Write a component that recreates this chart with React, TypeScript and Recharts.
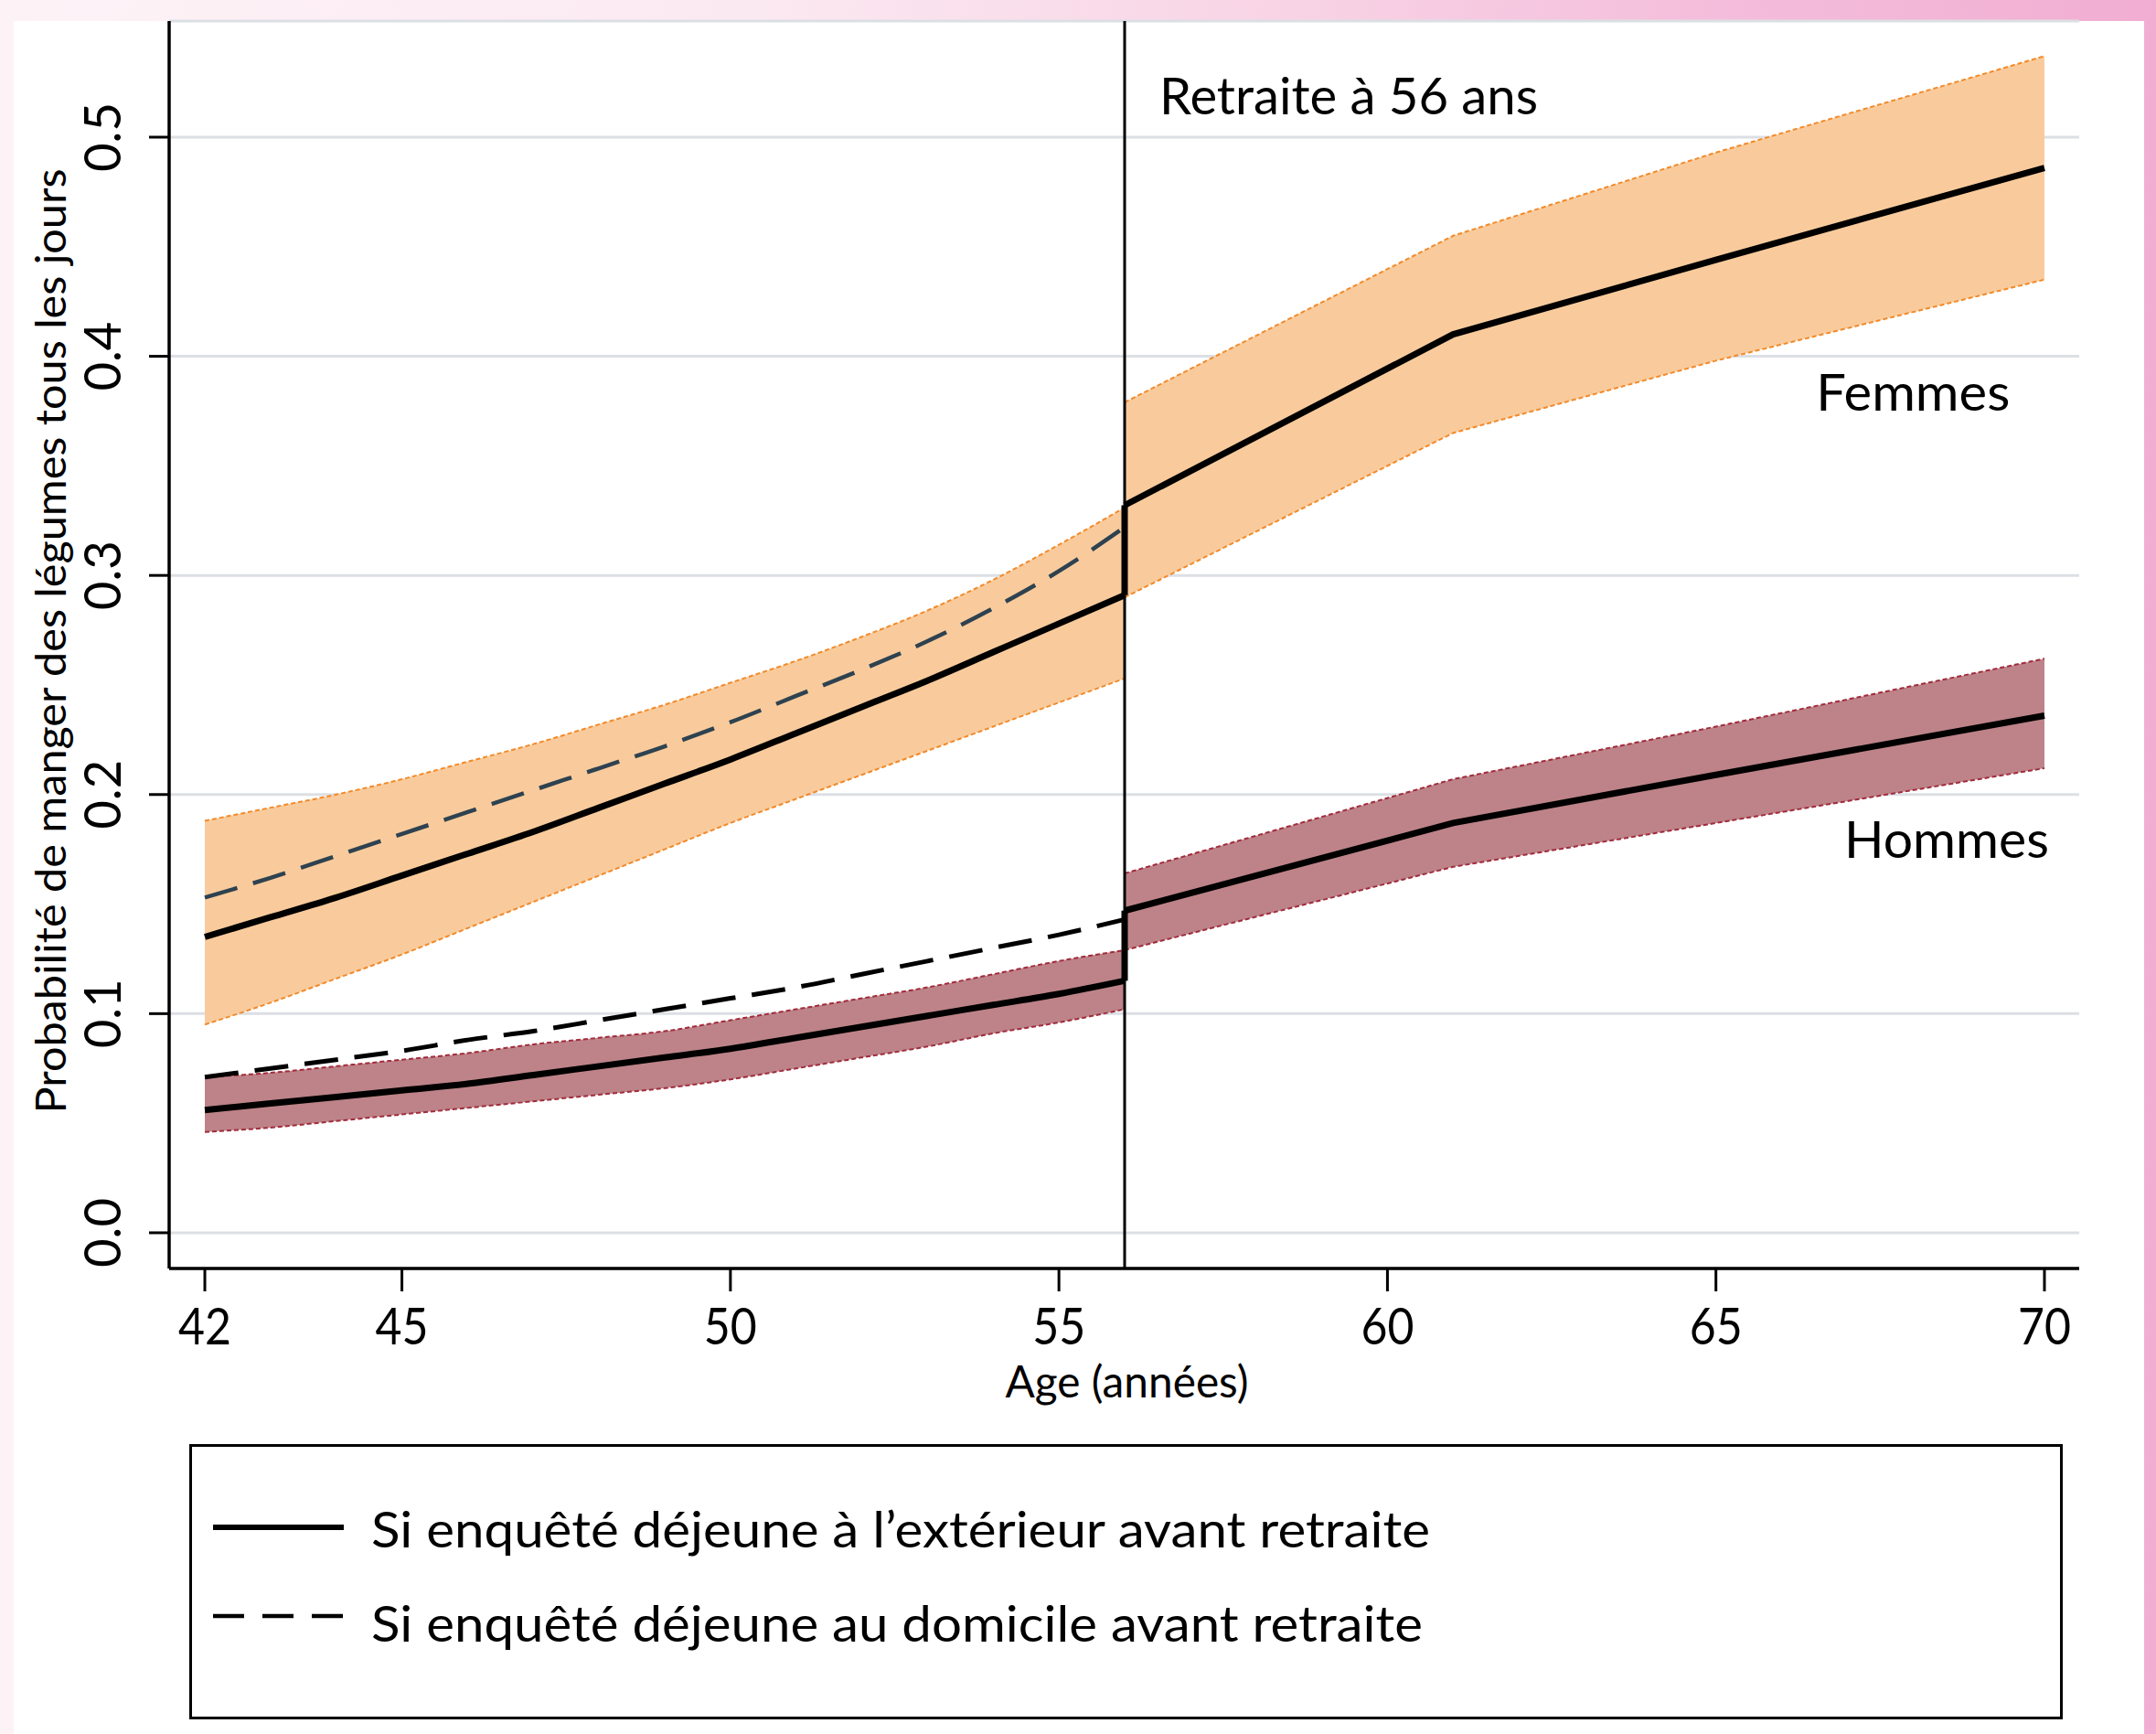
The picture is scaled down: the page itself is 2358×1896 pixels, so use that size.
import React from 'react';
import {
  ComposedChart,
  Area,
  Line,
  XAxis,
  YAxis,
  CartesianGrid,
  ReferenceLine,
  ReferenceDot,
  Legend,
  Label,
} from 'recharts';

// ages (years) before and after retirement at 56
const agesBefore = [42, 43, 44, 45, 46, 47, 48, 49, 50, 51, 52, 53, 54, 55, 56];
const agesAfter = [56, 61, 65, 70];
const retirementAge = 56;

// Femmes
const femmesSolidBefore = [0.135, 0.144, 0.153, 0.163, 0.173, 0.183, 0.194, 0.205, 0.216, 0.228, 0.240, 0.252, 0.265, 0.278, 0.291];
const femmesDashedBefore = [0.153, 0.162, 0.172, 0.182, 0.192, 0.202, 0.212, 0.222, 0.233, 0.245, 0.257, 0.270, 0.285, 0.302, 0.322];
const femmesHighBefore = [0.188, 0.194, 0.200, 0.207, 0.215, 0.223, 0.232, 0.241, 0.251, 0.261, 0.272, 0.284, 0.298, 0.314, 0.331];
const femmesLowBefore = [0.095, 0.105, 0.116, 0.127, 0.139, 0.151, 0.163, 0.175, 0.187, 0.198, 0.209, 0.220, 0.231, 0.242, 0.253];
const femmesSolidAfter = [0.332, 0.410, 0.444, 0.486];
const femmesHighAfter = [0.379, 0.455, 0.493, 0.537];
const femmesLowAfter = [0.290, 0.365, 0.398, 0.435];

// Hommes
const hommesSolidBefore = [0.056, 0.059, 0.062, 0.065, 0.068, 0.072, 0.076, 0.080, 0.084, 0.089, 0.094, 0.099, 0.104, 0.109, 0.115];
const hommesDashedBefore = [0.071, 0.075, 0.079, 0.083, 0.088, 0.092, 0.097, 0.102, 0.107, 0.112, 0.118, 0.124, 0.130, 0.136, 0.143];
const hommesHighBefore = [0.071, 0.073, 0.076, 0.079, 0.082, 0.086, 0.089, 0.092, 0.097, 0.102, 0.107, 0.112, 0.118, 0.124, 0.129];
const hommesLowBefore = [0.046, 0.048, 0.051, 0.054, 0.057, 0.060, 0.063, 0.066, 0.070, 0.075, 0.080, 0.085, 0.091, 0.096, 0.102];
const hommesSolidAfter = [0.147, 0.187, 0.209, 0.236];
const hommesHighAfter = [0.164, 0.207, 0.231, 0.262];
const hommesLowAfter = [0.129, 0.167, 0.187, 0.212];

const xTicks = [42, 45, 50, 55, 60, 65, 70];
const yTicks = [0, 0.1, 0.2, 0.3, 0.4, 0.5];

const legendLabels = [
  'Si enquêté déjeune à l’extérieur avant retraite',
  'Si enquêté déjeune au domicile avant retraite',
];

const FONT = 'Lato, "Open Sans", sans-serif';

const toLine = (ages: number[], values: number[]) => ages.map((age, i) => ({ age, v: values[i] }));
const toBand = (ages: number[], low: number[], high: number[]) =>
  ages.map((age, i) => ({ age, band: [low[i], high[i]] }));

// segments: before retirement (smooth), jump at 56, after retirement
const femmesBefore = toLine(agesBefore, femmesSolidBefore);
const femmesAfter = toLine(agesAfter, femmesSolidAfter);
const femmesJump = [femmesBefore[femmesBefore.length - 1], femmesAfter[0]];
const hommesBefore = toLine(agesBefore, hommesSolidBefore);
const hommesAfter = toLine(agesAfter, hommesSolidAfter);
const hommesJump = [hommesBefore[hommesBefore.length - 1], hommesAfter[0]];
const femmesDashed = toLine(agesBefore, femmesDashedBefore);
const hommesDashed = toLine(agesBefore, hommesDashedBefore);
const femmesBandBefore = toBand(agesBefore, femmesLowBefore, femmesHighBefore);
const femmesBandAfter = toBand(agesAfter, femmesLowAfter, femmesHighAfter);
const hommesBandBefore = toBand(agesBefore, hommesLowBefore, hommesHighBefore);
const hommesBandAfter = toBand(agesAfter, hommesLowAfter, hommesHighAfter);

const XTick = ({ x, y, payload }: any) => (
  <text
    x={x}
    y={y + 42}
    textAnchor='middle'
    fontSize={56}
    fontFamily={FONT}
    fill='#000'
    textLength={String(payload.value).length * 29}
    lengthAdjust='spacingAndGlyphs'
  >
    {payload.value}
  </text>
);

const YTick = ({ x, y, payload }: any) => (
  <text
    x={x}
    y={y}
    transform={`rotate(-90 ${x} ${y})`}
    textAnchor='middle'
    fontSize={56}
    fontFamily={FONT}
    fill='#000'
    textLength={76}
    lengthAdjust='spacingAndGlyphs'
  >
    {Number(payload.value).toFixed(1)}
  </text>
);

const groupLabel = (text: string, width: number) => (props: any) => (
  <text
    x={props.cx}
    y={props.cy}
    textAnchor='middle'
    fontSize={57}
    fontFamily={FONT}
    fill='#000'
    textLength={width}
    lengthAdjust='spacingAndGlyphs'
  >
    {text}
  </text>
);

const renderLegend = () => (
  <svg width={2049} height={301} style={{ display: 'block' }}>
    <rect x={1.5} y={1.5} width={2046} height={298} fill='#fff' stroke='#000' strokeWidth={3} />
    <line x1={26} x2={169} y1={91} y2={91} stroke='#000' strokeWidth={6} />
    <line x1={26} x2={169} y1={188} y2={188} stroke='#000' strokeWidth={4.5} strokeDasharray='34 20' />
    <text x={199} y={113} fontSize={55} fontFamily={FONT} fill='#000' textLength={1158} lengthAdjust='spacingAndGlyphs'>
      {legendLabels[0]}
    </text>
    <text x={199} y={216} fontSize={55} fontFamily={FONT} fill='#000' textLength={1150} lengthAdjust='spacingAndGlyphs'>
      {legendLabels[1]}
    </text>
  </svg>
);

const bandStyle = (fill: string, stroke: string) => ({
  dataKey: 'band',
  fill,
  fillOpacity: 1,
  stroke,
  strokeWidth: 2,
  strokeDasharray: '5 3',
  dot: false,
  activeDot: false,
  isAnimationActive: false,
});

const solidStyle = {
  dataKey: 'v',
  stroke: '#000',
  strokeWidth: 7,
  dot: false,
  activeDot: false,
  isAnimationActive: false,
};

export default function App() {
  return (
    <div
      style={{
        position: 'absolute',
        left: 0,
        top: 0,
        width: 2358,
        height: 1896,
        overflow: 'hidden',
        background: 'linear-gradient(90deg, #fdf3f7 0%, #fbe9f1 35%, #f8d3e5 60%, #f4bddb 80%, #f1aed2 100%)',
      }}
    >
      <div style={{ position: 'absolute', left: 15, top: 23, width: 2330, height: 1873, background: '#fff' }} />
      <div style={{ position: 'absolute', left: 0, top: 0 }}>
        <ComposedChart
          width={2358}
          height={1896}
          margin={{ top: 23, right: 84, bottom: 0, left: 0 }}
        >
          <CartesianGrid vertical={false} stroke='#dcdfe4' strokeWidth={3} />
          <XAxis
            dataKey='age'
            type='number'
            domain={[41.457, 70.529]}
            ticks={xTicks}
            allowDataOverflow
            height={509}
            tickSize={25}
            tickMargin={16}
            axisLine={{ stroke: '#000', strokeWidth: 3.5 }}
            tickLine={{ stroke: '#000', strokeWidth: 3 }}
            tick={<XTick />}
          >
            <Label
              content={({ viewBox }: any) => (
                <text
                  x={viewBox.x + viewBox.width / 2 + 3}
                  y={viewBox.y + 141}
                  textAnchor='middle'
                  fontSize={48}
                  fontFamily={FONT}
                  fill='#000'
                  textLength={266}
                  lengthAdjust='spacingAndGlyphs'
                >
                  Age (années)
                </text>
              )}
            />
          </XAxis>
          <YAxis
            type='number'
            domain={[-0.0163, 0.553]}
            ticks={yTicks}
            allowDataOverflow
            width={185}
            tickSize={22}
            tickMargin={31}
            axisLine={{ stroke: '#000', strokeWidth: 3.5 }}
            tickLine={{ stroke: '#000', strokeWidth: 3 }}
            tick={<YTick />}
          >
            <Label
              content={({ viewBox }: any) => {
                const x = viewBox.x + 72;
                const y = viewBox.y + viewBox.height / 2 - 4;
                return (
                  <text
                    x={x}
                    y={y}
                    transform={`rotate(-90 ${x} ${y})`}
                    textAnchor='middle'
                    fontSize={46}
                    fontFamily={FONT}
                    fill='#000'
                    textLength={1033}
                    lengthAdjust='spacingAndGlyphs'
                  >
                    Probabilité de manger des légumes tous les jours
                  </text>
                );
              }}
            />
          </YAxis>

          <ReferenceLine
            x={retirementAge}
            stroke='#000'
            strokeWidth={3}
            label={({ viewBox }: any) => (
              <text
                x={viewBox.x + 38}
                y={viewBox.y + 102}
                fontSize={56}
                fontFamily={FONT}
                fill='#000'
                textLength={414}
                lengthAdjust='spacingAndGlyphs'
              >
                Retraite à 56 ans
              </text>
            )}
          />

          <Area data={femmesBandBefore} type='monotone' {...bandStyle('#f9cb9c', '#f28a2a')} />
          <Area data={femmesBandAfter} type='linear' {...bandStyle('#f9cb9c', '#f28a2a')} />
          <Area data={hommesBandBefore} type='monotone' {...bandStyle('#bd8388', '#a02c3c')} />
          <Area data={hommesBandAfter} type='linear' {...bandStyle('#bd8388', '#a02c3c')} />

          <Line
            data={femmesDashed}
            dataKey='v'
            type='monotone'
            stroke='#2e4250'
            strokeWidth={4.5}
            strokeDasharray='37 18'
            dot={false}
            activeDot={false}
            isAnimationActive={false}
          />
          <Line
            data={hommesDashed}
            dataKey='v'
            type='monotone'
            stroke='#000'
            strokeWidth={5}
            strokeDasharray='37 18'
            dot={false}
            activeDot={false}
            isAnimationActive={false}
          />

          <Line data={femmesBefore} type='monotone' {...solidStyle} />
          <Line data={femmesJump} type='linear' {...solidStyle} />
          <Line data={femmesAfter} type='linear' {...solidStyle} />
          <Line data={hommesBefore} type='monotone' {...solidStyle} />
          <Line data={hommesJump} type='linear' {...solidStyle} />
          <Line data={hommesAfter} type='linear' {...solidStyle} />

          <ReferenceDot x={68.0} y={0.375} r={0} shape={groupLabel('Femmes', 212)} />
          <ReferenceDot x={68.51} y={0.171} r={0} shape={groupLabel('Hommes', 224)} />

          <Legend
            layout='vertical'
            align='center'
            verticalAlign='middle'
            wrapperStyle={{ left: 207, top: 1579, width: 2049, height: 301 }}
            content={renderLegend}
          />
        </ComposedChart>
      </div>
    </div>
  );
}
